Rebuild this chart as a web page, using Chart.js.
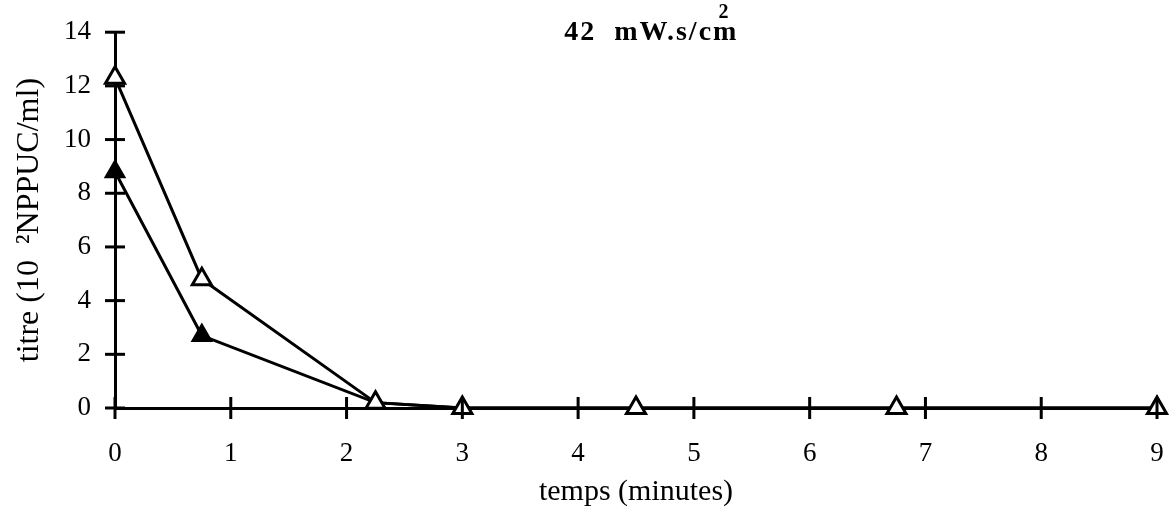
<!DOCTYPE html>
<html>
<head>
<meta charset="utf-8">
<script src="https://cdn.jsdelivr.net/npm/chart.js@4"></script>
<style>
  html, body { margin: 0; padding: 0; background: #fff; }
  #wrap { width: 1176px; height: 518px; }
</style>
</head>
<body>
<div id="wrap"><canvas id="myChart"></canvas></div>
<script>
const times = [ 0, 0.75, 2.25, 3, 4.5, 6.75, 9 ];
const openTitre = [ 12.3, 4.8, 0.2, 0, 0, 0, 0 ];
const filledTitre = [ 8.8, 2.7, 0.2, 0, 0, 0, 0 ];
const chartTitle = '42  mW.s/cm';
const titleSup = '2';

const toPoints = (ys) => times.map((x, i) => ({ x: x, y: ys[i] }));

// ticks drawn across the axis lines, plus the title inside the plot
const crossTicks = {
	id: 'crossTicks',
	afterDatasetsDraw(chart) {
		const c = chart.ctx;
		const xs = chart.scales.x;
		const ys = chart.scales.y;
		const y0 = ys.getPixelForValue(0);
		const x0 = xs.getPixelForValue(0);
		c.save();
		c.strokeStyle = '#000';
		c.lineWidth = 3;
		xs.ticks.forEach((t) => {
			const px = xs.getPixelForValue(t.value);
			c.beginPath();
			c.moveTo(px, y0 - 11);
			c.lineTo(px, y0 + 11);
			c.stroke();
		});
		ys.ticks.forEach((t) => {
			const py = ys.getPixelForValue(t.value);
			c.beginPath();
			c.moveTo(x0 - 10, py);
			c.lineTo(x0 + 10, py);
			c.stroke();
		});
		c.fillStyle = '#000';
		c.textAlign = 'left';
		c.textBaseline = 'alphabetic';
		c.font = 'bold 28px "Liberation Serif"';
		c.letterSpacing = '2px';
		const tx = xs.getPixelForValue(3.88);
		c.fillText(chartTitle, tx, 40);
		const w = c.measureText(chartTitle).width;
		c.font = 'bold 20px "Liberation Serif"';
		c.fillText(titleSup, tx + w - 20, 18);
		c.restore();
	}
};

const ctx = document.getElementById('myChart').getContext('2d');

const chart = new Chart(ctx, {
	type: 'scatter',
	data: {
		datasets: [
			{
				label: 'open',
				data: toPoints(openTitre),
				showLine: true,
				clip: false,
				borderColor: '#000',
				borderWidth: 3,
				pointStyle: 'triangle',
				pointRadius: 11,
				pointBorderWidth: 3,
				pointBackgroundColor: '#fff',
				pointBorderColor: '#000',
				order: 0
			},
			{
				label: 'filled',
				data: toPoints(filledTitre),
				showLine: true,
				clip: false,
				borderColor: '#000',
				borderWidth: 3,
				pointStyle: 'triangle',
				pointRadius: 11,
				pointBorderWidth: 2,
				pointBackgroundColor: '#000',
				pointBorderColor: '#000',
				order: 1
			}
		]
	},
	options: {
		responsive: true,
		maintainAspectRatio: false,
		animation: false,
		layout: {
			autoPadding: false,
			padding: { left: 0, right: 19, top: 31, bottom: 0 }
		},
		plugins: {
			legend: { display: false },
			tooltip: { enabled: false }
		},
		scales: {
			x: {
				type: 'linear',
				min: 0,
				max: 9,
				grid: { display: false },
				border: { display: true, color: '#000', width: 3 },
				ticks: {
					stepSize: 1,
					color: '#000',
					padding: 22,
					font: { family: 'Liberation Serif', size: 27 }
				},
				title: {
					display: true,
					text: 'temps (minutes)',
					color: '#000',
					padding: { top: 0, bottom: 8 },
					font: { family: 'Liberation Serif', size: 30 }
				},
				afterFit: (scale) => {
					scale.height = 110;
					scale.paddingLeft = 0;
					scale.paddingRight = 0;
				}
			},
			y: {
				min: 0,
				max: 14,
				grid: { display: false },
				border: { display: true, color: '#000', width: 3 },
				ticks: {
					stepSize: 2,
					color: '#000',
					padding: 16,
					font: { family: 'Liberation Serif', size: 27 }
				},
				title: {
					display: true,
					text: 'titre (10  \u00B2NPPUC/ml)',
					color: '#000',
					padding: { top: 10, bottom: 0 },
					font: { family: 'Liberation Serif', size: 32 }
				},
				afterFit: (scale) => { scale.width = 115; }
			}
		}
	},
	plugins: [ crossTicks ]
});
</script>
</body>
</html>
